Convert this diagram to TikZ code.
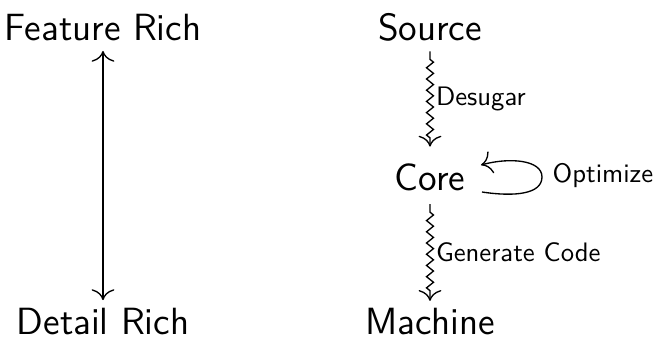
\documentclass[tikz,border=0pt]{standalone}
\usetikzlibrary{decorations.pathmorphing,arrows.meta}
\begin{document}
\begin{tikzpicture}[x=0.3745pt,y=-0.3745pt, line width=0.5pt,
  >={To[scale=1.5]},
  big/.style={font=\sffamily\fontsize{14.2}{17}\selectfont, inner sep=0pt, anchor=base},
  small/.style={font=\sffamily\fontsize{10}{12}\selectfont, inner sep=0pt},
  squig/.style={->, decorate, decoration={zigzag, amplitude=1.3pt, segment length=4.2pt, pre length=3pt, post length=3pt}}]
\useasboundingbox (0,0) rectangle (654,345);
% left scale
\node[big] (feat) at (103,40) {Feature Rich};
\node[big] (detail) at (103,334) {Detail Rich};
\draw[<->] ([yshift=-3.7pt]feat.south) -- ([yshift=2.6pt]detail.north);
% pipeline
\node[big] (src) at (430,40) {Source};
\node[big] (core) at (430,190) {Core};
\node[big] (mach) at (430,334) {Machine};
\draw[squig] ([yshift=-3.7pt]src.south) -- node[small, right=2pt] {Desugar} ([yshift=6pt]core.north);
\draw[squig] ([yshift=-4.9pt]core.south) -- node[small, right=2pt] {Generate Code} ([yshift=2.3pt]mach.north);
% optimization loop
\coordinate (lb) at (482,192);
\coordinate (lt) at (481,165);
\draw[->] (lb) .. controls (515,197) and (542,194) .. (542,177)
  .. controls (542,160) and (510,157) .. (lt);
\node[small, anchor=west] (opt) at (552,176) {Optimize};
\end{tikzpicture}
\end{document}
